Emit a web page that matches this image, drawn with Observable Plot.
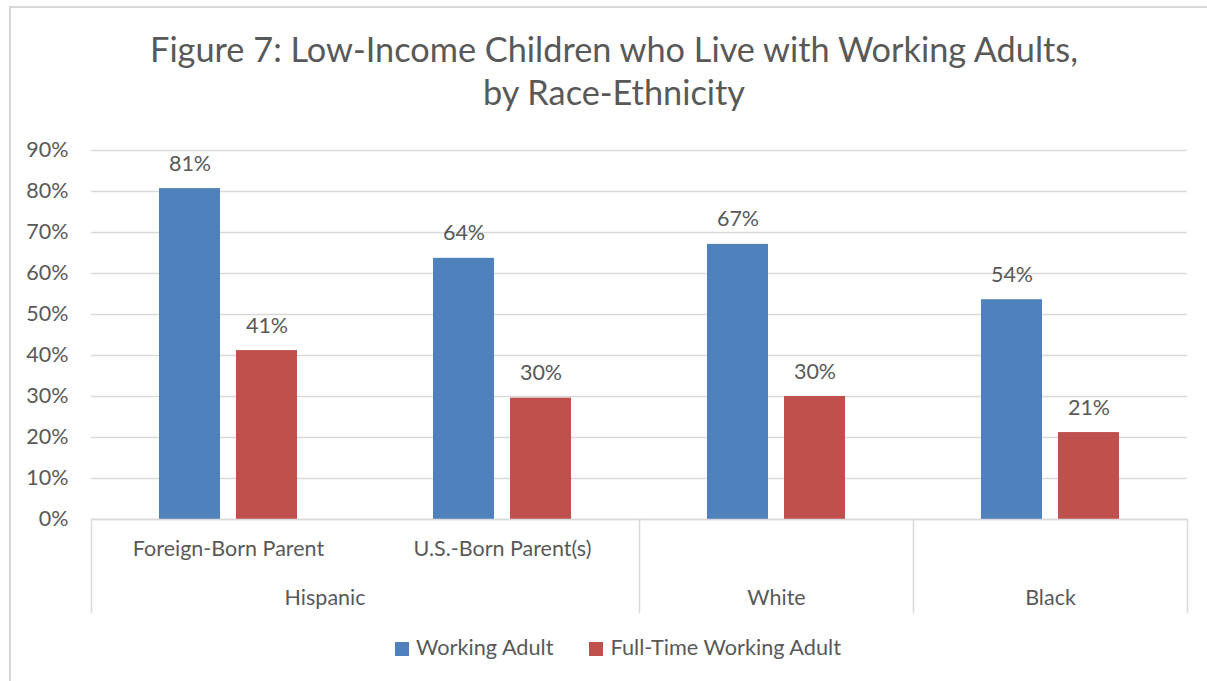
<!DOCTYPE html>
<html>
<head>
<meta charset="utf-8">
<script src="https://cdn.jsdelivr.net/npm/d3@7"></script>
<script src="https://cdn.jsdelivr.net/npm/@observablehq/plot@0.6"></script>
<style>
  body { margin: 0; background: #fff; font-family: Lato, sans-serif; color: #595959; }
  #wrap { position: relative; width: 1207px; height: 681px; overflow: hidden; }
  #border { position: absolute; left: 9px; top: 6px; width: 1400px; height: 900px; border: 2px solid #d9d9d9; box-sizing: border-box; }
  #title { position: absolute; left: 0; width: 1228px; top: 27px; text-align: center; font-size: 34.3px; line-height: 43px; }
  #chart { position: absolute; left: 0; top: 130px; }
  #legend { position: absolute; left: 0; width: 1236px; top: 634px; text-align: center; font-size: 21.7px; line-height: 26px; white-space: nowrap; }
  .sw { display: inline-block; width: 14px; height: 14px; margin-right: 7px; vertical-align: -1px; }
  .item { display: inline-block; margin: 0 18px; }
</style>
</head>
<body>
<div id="wrap">
  <div id="border"></div>
  <div id="title">Figure 7: Low-Income Children who Live with Working Adults,<br>by Race-Ethnicity</div>
  <div id="chart"></div>
  <div id="legend"></div>
</div>
<script>
// ---- data ----
const categoryKeys = ["Hispanic|Foreign-Born Parent", "Hispanic|U.S.-Born Parent(s)", "White", "Black"];
const subLabels = ["Foreign-Born Parent", "U.S.-Born Parent(s)", "", ""];
const groupLabels = ["Hispanic", "White", "Black"];
const series = ["Working Adult", "Full-Time Working Adult"];
const workingAdult = [80.7, 63.7, 67.1, 53.6];
const fullTimeWorkingAdult = [41.2, 29.6, 30.0, 21.2];
const yTicks = [0, 10, 20, 30, 40, 50, 60, 70, 80, 90];
const colors = ["#4f81bd", "#c0504d"];

// ---- build table ----
const data = categoryKeys.flatMap((k, i) => [
  {key: k, series: series[0], value: workingAdult[i]},
  {key: k, series: series[1], value: fullTimeWorkingAdult[i]}
]);
const subData = categoryKeys.map((k, i) => ({key: k, label: subLabels[i]})).filter(d => d.label);
const groupData = [
  {key: categoryKeys[2], label: groupLabels[1]},
  {key: categoryKeys[3], label: groupLabels[2]}
];

const grey = "#595959";
const lineGrey = "#d9d9d9";
const fs = 21.5;

const chart = Plot.plot({
  width: 1207,
  height: 500,
  marginLeft: 90,
  marginRight: 19,
  marginTop: 20,
  marginBottom: 111,
  style: {fontFamily: "Lato, sans-serif", fontSize: fs + "px", color: grey, background: "transparent", overflow: "visible"},
  fx: {domain: categoryKeys, padding: 0, axis: null, label: null},
  x: {domain: series, paddingInner: 0.205, paddingOuter: 0.862, axis: null},
  y: {domain: [0, 90], axis: null},
  color: {domain: series, range: colors},
  marks: [
    Plot.gridY(yTicks, {stroke: lineGrey, strokeOpacity: 1, strokeWidth: 1.3}),
    Plot.axisY(yTicks, {tickSize: 0, tickPadding: 23, tickFormat: d => d + "%", label: null, fontSize: fs, fill: grey}),
    Plot.barY(data, {fx: "key", x: "series", y: "value", fill: "series"}),
    Plot.ruleY([0], {stroke: lineGrey, strokeWidth: 1.5}),
    Plot.text(data, {fx: "key", x: "series", y: "value", text: d => Math.round(d.value) + "%", dy: -18, lineAnchor: "bottom", fill: grey, fontSize: fs}),
    Plot.text(subData, {fx: "key", text: "label", frameAnchor: "bottom", dy: 36, fill: grey, fontSize: fs}),
    Plot.text([groupLabels[0]], {fx: [categoryKeys[0]], text: d => d, frameAnchor: "bottom-right", dy: 85, fill: grey, fontSize: fs}),
    Plot.text(groupData, {fx: "key", text: "label", frameAnchor: "bottom", dy: 85, fill: grey, fontSize: fs}),
    Plot.frame({anchor: "left", fx: [categoryKeys[0]], insetTop: 369, insetBottom: -93, stroke: lineGrey, strokeWidth: 1.5}),
    Plot.frame({anchor: "left", fx: [categoryKeys[2]], insetTop: 369, insetBottom: -93, stroke: lineGrey, strokeWidth: 1.5}),
    Plot.frame({anchor: "left", fx: [categoryKeys[3]], insetTop: 369, insetBottom: -93, stroke: lineGrey, strokeWidth: 1.5}),
    Plot.frame({anchor: "right", fx: [categoryKeys[3]], insetTop: 369, insetBottom: -93, stroke: lineGrey, strokeWidth: 1.5})
  ]
});
document.getElementById("chart").appendChild(chart);

// ---- legend ----
const legend = document.getElementById("legend");
series.forEach((s, i) => {
  const item = document.createElement("span");
  item.className = "item";
  const sw = document.createElement("span");
  sw.className = "sw";
  sw.style.background = colors[i];
  item.appendChild(sw);
  item.appendChild(document.createTextNode(s));
  legend.appendChild(item);
});
</script>
</body>
</html>
